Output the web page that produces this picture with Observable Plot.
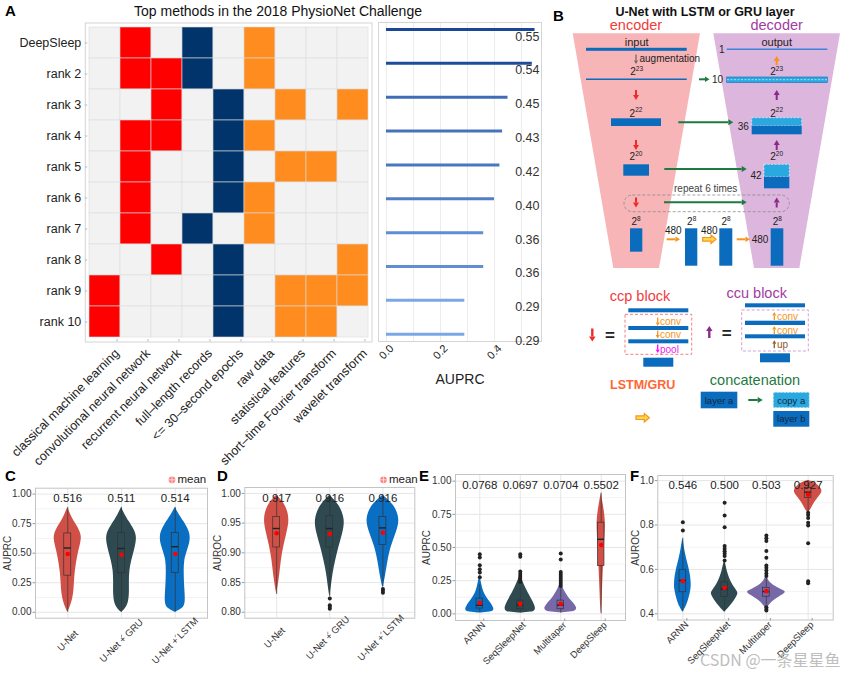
<!DOCTYPE html>
<html><head><meta charset="utf-8">
<script src="https://cdn.jsdelivr.net/npm/d3@7"></script>
<script src="https://cdn.jsdelivr.net/npm/@observablehq/plot@0.6"></script>
<style>
body{margin:0;background:#fff}
#root{position:relative;width:850px;height:676px;overflow:hidden;background:#fff;font-family:"Liberation Sans",Arial,Helvetica,sans-serif}
.p{position:absolute}
.p svg{overflow:visible}
</style></head><body><div id="root"></div>
<script>
// ---------------- data ----------------
const methods = ["DeepSleep","rank 2","rank 3","rank 4","rank 5","rank 6","rank 7","rank 8","rank 9","rank 10"];
const features = ["classical machine learning","convolutional neural network","recurrent neural network","full\u2013length records","<= 30\u2013second epochs","raw data","statistical features","short\u2013time Fourier transform","wavelet transform"];
const featureGroup = ["model","model","model","input","input","feature","feature","feature","feature"];
const usage = [
  [0,1,0,1,0,1,0,0,0],
  [0,1,1,1,0,1,0,0,0],
  [0,0,1,0,1,0,1,0,1],
  [0,1,1,0,1,1,0,0,0],
  [0,1,0,0,1,0,1,1,0],
  [0,1,0,0,1,1,0,0,0],
  [0,1,0,1,0,1,0,0,0],
  [0,0,1,0,1,0,0,0,1],
  [1,0,0,0,1,0,1,1,1],
  [1,0,0,0,1,0,1,1,0]
];
const challengeAUPRC = [0.55,0.54,0.45,0.43,0.42,0.40,0.36,0.36,0.29,0.29];

// panel C / D : U-Net variants
const unetNames = ["U-Net","U-Net + GRU","U-Net + LSTM"];
const unetAUPRCMean = ["0.516","0.511","0.514"];
const unetAUROCMean = ["0.917","0.916","0.916"];
// violin profiles: [value, half width (category units)]
const unetAUPRCProfile = [
  [[0.887,0],[0.82,0.06],[0.775,0.11],[0.72,0.19],[0.66,0.25],[0.62,0.255],[0.57,0.235],[0.52,0.205],[0.44,0.17],[0.35,0.14],[0.25,0.122],[0.155,0.113],[0.07,0.07],[0.0,0]],
  [[0.887,0],[0.82,0.07],[0.775,0.13],[0.70,0.24],[0.64,0.285],[0.58,0.27],[0.52,0.24],[0.44,0.19],[0.35,0.15],[0.25,0.145],[0.155,0.15],[0.07,0.13],[0.02,0.06],[0,0]],
  [[0.887,0],[0.82,0.08],[0.775,0.15],[0.70,0.25],[0.64,0.285],[0.58,0.27],[0.52,0.225],[0.44,0.17],[0.35,0.165],[0.25,0.17],[0.15,0.185],[0.08,0.19],[0.03,0.15],[0,0]]
];
const unetAUPRCBox = [
  {lo:0.0,q1:0.31,med:0.544,q3:0.667,hi:0.887,mean:0.493},
  {lo:0.0,q1:0.33,med:0.54,q3:0.67,hi:0.887,mean:0.487},
  {lo:0.0,q1:0.333,med:0.555,q3:0.67,hi:0.887,mean:0.493}
];
const unetAUPRCOut = [[],[],[]];
const unetAUROCProfile = [
  [[0.997,0],[0.983,0.15],[0.966,0.225],[0.95,0.235],[0.932,0.19],[0.91,0.13],[0.887,0.085],[0.859,0.055],[0.83,0]],
  [[0.997,0],[0.98,0.19],[0.955,0.295],[0.932,0.245],[0.91,0.17],[0.887,0.11],[0.864,0.056],[0.842,0.028],[0.825,0]],
  [[0.997,0],[0.98,0.225],[0.955,0.33],[0.932,0.245],[0.91,0.15],[0.887,0.095],[0.859,0.047],[0.84,0]]
];
const unetAUROCBox = [
  {lo:0.83,q1:0.909,med:0.941,q3:0.9605,hi:0.995,mean:0.933},
  {lo:0.827,q1:0.909,med:0.941,q3:0.962,hi:0.995,mean:0.932},
  {lo:0.843,q1:0.913,med:0.942,q3:0.9605,hi:0.995,mean:0.934}
];
const unetAUROCOut = [[],[0.823,0.812,0.809,0.806],[0.839,0.836,0.833]];

// panel E / F : method comparison
const methodNames = ["ARNN","SeqSleepNet","Multitaper","DeepSleep"];
const methodAUPRCMean = ["0.0768","0.0697","0.0704","0.5502"];
const methodAUROCMean = ["0.546","0.500","0.503","0.927"];
const methodAUPRCProfile = [
  [[0.30,0],[0.26,0.02],[0.22,0.05],[0.18,0.08],[0.15,0.12],[0.12,0.18],[0.09,0.25],[0.065,0.31],[0.04,0.35],[0.025,0.35],[0.012,0.28],[0.006,0]],
  [[0.30,0],[0.26,0.04],[0.22,0.1],[0.18,0.16],[0.14,0.23],[0.1,0.3],[0.07,0.35],[0.045,0.38],[0.025,0.37],[0.012,0.3],[0.006,0]],
  [[0.24,0],[0.21,0.04],[0.18,0.08],[0.15,0.14],[0.12,0.2],[0.09,0.29],[0.065,0.36],[0.045,0.4],[0.03,0.39],[0.015,0.32],[0.008,0]],
  [[0.91,0],[0.85,0.035],[0.78,0.075],[0.70,0.105],[0.63,0.1],[0.53,0.085],[0.40,0.062],[0.29,0.045],[0.165,0.03],[0.04,0.012],[0,0]]
];
const methodAUPRCBox = [
  {lo:0.01,q1:0.04,med:0.065,q3:0.115,hi:0.22,mean:0.083},
  {lo:0.005,q1:0.035,med:0.065,q3:0.1,hi:0.2,mean:0.075},
  {lo:0.005,q1:0.035,med:0.065,q3:0.1,hi:0.19,mean:0.075},
  {lo:0.0,q1:0.36,med:0.562,q3:0.687,hi:0.91,mean:0.518}
];
const methodAUPRCOut = [
  [0.45,0.425,0.367,0.337,0.312,0.275],
  [0.45,0.43,0.32,0.30,0.285,0.27,0.255,0.24],
  [0.455,0.41,0.315,0.3,0.285,0.27,0.255,0.24,0.225,0.21],
  []
];
const methodAUROCProfile = [
  [[0.74,0],[0.73,0.012],[0.67,0.06],[0.625,0.12],[0.58,0.18],[0.535,0.205],[0.505,0.195],[0.46,0.135],[0.43,0.075],[0.407,0]],
  [[0.64,0],[0.625,0.025],[0.58,0.075],[0.535,0.17],[0.505,0.29],[0.49,0.34],[0.46,0.24],[0.43,0.12],[0.407,0]],
  [[0.575,0],[0.56,0.03],[0.535,0.1],[0.51,0.34],[0.497,0.52],[0.475,0.29],[0.452,0.12],[0.43,0.036],[0.42,0]],
  [[1.0,0],[0.995,0.12],[0.975,0.27],[0.952,0.36],[0.93,0.27],[0.9,0.145],[0.87,0.07],[0.855,0]]
];
const methodAUROCBox = [
  {lo:0.41,q1:0.497,med:0.55,q3:0.598,hi:0.74,mean:0.547},
  {lo:0.41,q1:0.475,med:0.512,q3:0.542,hi:0.63,mean:0.517},
  {lo:0.44,q1:0.477,med:0.5,q3:0.517,hi:0.56,mean:0.502},
  {lo:0.86,q1:0.922,med:0.948,q3:0.967,hi:1.0,mean:0.937}
];
const methodAUROCOut = [
  [0.812,0.775],
  [0.9,0.843,0.79,0.705,0.693,0.682,0.672,0.66,0.64],
  [0.753,0.74,0.728,0.683,0.652,0.617,0.607,0.595,0.582,0.57,0.43,0.422,0.415],
  [0.855,0.845,0.832,0.81,0.798,0.718,0.547,0.538]
];

// ---------------- helpers ----------------
const FONT = '"Liberation Sans", Arial, Helvetica, sans-serif';
const root = document.getElementById("root");
function place(el, left, top){
  const d = document.createElement("div");
  d.className = "p"; d.style.left = left + "px"; d.style.top = top + "px";
  d.appendChild(el); root.appendChild(d);
}
const baseStyle = {fontFamily: FONT, background: "transparent", overflow: "visible", color: "#222"};

// ---------------- panel A: heatmap ----------------
const groupColor = {model: "#ff0000", input: "#01346b", feature: "#ff8c1f"};
const cells = methods.flatMap((m, i) => features.map((f, j) => ({method: m, feature: f, used: usage[i][j], group: featureGroup[j]})));
place(Plot.plot({
  width: 376, height: 470, marginLeft: 87.3, marginRight: 7, marginTop: 25, marginBottom: 131,
  style: baseStyle,
  x: {domain: features, padding: 0, label: null},
  y: {domain: methods, padding: 0, label: null},
  marks: [
    Plot.frame({stroke: "#d4d4d4", inset: -2.5}),
    Plot.cell(cells, {x: "feature", y: "method", fill: d => d.used ? groupColor[d.group] : "#f2f2f2", stroke: "#dcdcdc", strokeOpacity: 0.6}),
    Plot.axisY({label: null, tickSize: 2.5, tickPadding: 4, fontSize: 12.5, stroke: "#bbb", fill: "#222"}),
    Plot.axisX({label: null, tickSize: 2.5, tickRotate: -45, fontSize: 12.5, stroke: "#bbb", fill: "#222", dx: 12, dy: 0})
  ]
}), 0, 0);

// ---------------- panel A: AUPRC bars ----------------
const bars = methods.map((m, i) => ({method: m, rank: i, auprc: challengeAUPRC[i]}));
place(Plot.plot({
  width: 180, height: 470, marginLeft: 6, marginRight: 11, marginTop: 22, marginBottom: 129,
  style: baseStyle,
  x: {domain: [-0.0296, 0.574], label: null},
  y: {domain: [9.216, -0.207], axis: null},
  color: {type: "linear", domain: [0.29, 0.55], range: ["#78a8e8", "#1a4799"]},
  marks: [
    Plot.gridX([0, 0.1, 0.2, 0.3, 0.4, 0.5], {stroke: "#ececec", strokeOpacity: 1}),
    Plot.frame({stroke: "#d4d4d4"}),
    Plot.ruleY(bars, {y: "rank", x1: 0, x2: "auprc", stroke: "auprc", strokeWidth: 3}),
    Plot.text(bars, {y: "rank", text: d => d.auprc.toFixed(2), frameAnchor: "right", dx: -2, dy: 7, textAnchor: "end", fontSize: 12.5, fill: "#333"}),
    Plot.axisX({ticks: [0, 0.2, 0.4], tickFormat: ".1f", tickRotate: -45, textAnchor: "middle", tickSize: 2.5, tickPadding: 3, dy: 5,
      fontSize: 11, stroke: "#bbb", fill: "#222", label: null}),
    Plot.axisX({ticks: [], label: "AUPRC", labelAnchor: "center", labelArrow: "none", labelOffset: 42, fontSize: 14, fill: "#222"})
  ]
}), 372, 0);

// ---------------- violin panels ----------------
function violinPanel(o){
  const pos = o.names.map((_, i) => i + 1);
  const area = o.names.flatMap((nm, i) => o.profiles[i].map(([v, w]) => ({cat: nm, i: i + 1, v, w})));
  const box = o.names.map((nm, i) => ({cat: nm, i: i + 1, label: o.meanLabels[i], ...o.boxes[i]}));
  const out = o.names.flatMap((nm, i) => o.outliers[i].map(v => ({i: i + 1, v})));
  const col = d => o.colors[d.i - 1];
  const bw = o.bw;
  return Plot.plot({
    width: o.width, height: o.height,
    marginLeft: o.ml, marginRight: o.mr, marginTop: o.mt, marginBottom: o.mb,
    style: baseStyle,
    x: {domain: o.xDomain, label: null},
    y: {domain: o.yDomain, label: null},
    marks: [
      Plot.gridY(o.yMinor, {stroke: "#f3f3f3", strokeOpacity: 1}),
      Plot.gridY(o.yTicks, {stroke: "#e6e6e6", strokeOpacity: 1}),
      Plot.gridX(pos, {stroke: "#e6e6e6", strokeOpacity: 1}),
      Plot.areaX(area, {y: "v", x1: d => d.i - d.w, x2: d => d.i + d.w, z: "cat", fill: col, curve: "basis"}),
      Plot.ruleX(box, {x: "i", y1: "lo", y2: "hi", stroke: "#333", strokeWidth: 0.7}),
      Plot.rect(box, {x1: d => d.i - bw, x2: d => d.i + bw, y1: "q1", y2: "q3", fill: col, stroke: "#333", strokeWidth: 0.7}),
      Plot.ruleY(box, {y: "med", x1: d => d.i - bw, x2: d => d.i + bw, stroke: "#222", strokeWidth: 1.4}),
      Plot.dot(out, {x: "i", y: "v", r: 2, fill: "#222"}),
      Plot.dot(box, {x: "i", y: "mean", r: 2.3, fill: "#ff0000"}),
      Plot.text(box, {x: "i", text: "label", frameAnchor: "top", dy: o.labelDy, fontSize: 11.5, fill: "#222"}),
      Plot.frame({stroke: "#c4c4c4"}),
      Plot.axisY({ticks: o.yTicks, tickFormat: o.yFormat, tickSize: 2.5, tickPadding: 1.5, fontSize: 10, stroke: "#999", fill: "#333",
        label: o.ylabel, labelAnchor: "center", labelArrow: "none", labelOffset: o.labelOffset}),
      Plot.axisX({ticks: pos, tickFormat: i => o.names[i - 1], tickRotate: -45, tickSize: 2.5, tickPadding: o.tpad, fontSize: o.tfs,
        stroke: "#999", fill: "#333", label: null, textAnchor: o.tanchor, dx: o.tdx, dy: o.tdy})
    ]
  });
}
const red = "#d05048", slate = "#2e4a50", blue = "#0a6fc2", purple = "#7768a8";

place(violinPanel({names: unetNames, colors: [red, slate, blue], profiles: unetAUPRCProfile, boxes: unetAUPRCBox, outliers: unetAUPRCOut,
  meanLabels: unetAUPRCMean, width: 215, height: 216, ml: 35, mr: 8, mt: 27.7, mb: 58.3, xDomain: [0.4, 3.6], yDomain: [-0.05, 1.05],
  yTicks: [0, 0.25, 0.5, 0.75, 1], yMinor: [0.125, 0.375, 0.625, 0.875], yFormat: ".2f", ylabel: "AUPRC", labelOffset: 32, bw: 0.065, labelDy: 6,
  tanchor: "middle", tpad: 3, tfs: 9.5, tdx: 0, tdy: 17}), 0, 460);

place(violinPanel({names: unetNames, colors: [red, slate, blue], profiles: unetAUROCProfile, boxes: unetAUROCBox, outliers: unetAUROCOut,
  meanLabels: unetAUROCMean, width: 205, height: 216, ml: 29.3, mr: 5.7, mt: 27, mb: 58.3, xDomain: [0.4, 3.6], yDomain: [0.79, 1.01],
  yTicks: [0.8, 0.85, 0.9, 0.95, 1], yMinor: [0.825, 0.875, 0.925, 0.975], yFormat: ".2f", ylabel: "AUROC", labelOffset: 31, bw: 0.065, labelDy: 6,
  tanchor: "middle", tpad: 3, tfs: 9.5, tdx: -2, tdy: 14}), 215, 460);

place(violinPanel({names: methodNames, colors: [blue, slate, purple, red], profiles: methodAUPRCProfile, boxes: methodAUPRCBox, outliers: methodAUPRCOut,
  meanLabels: methodAUPRCMean, width: 210, height: 216, ml: 35, mr: 5, mt: 14, mb: 56, xDomain: [0.4, 4.6], yDomain: [-0.05, 1.05],
  yTicks: [0, 0.25, 0.5, 0.75, 1], yMinor: [0.125, 0.375, 0.625, 0.875], yFormat: ".2f", ylabel: "AUPRC", labelOffset: 32.7, bw: 0.08, labelDy: 6,
  tanchor: "end", tpad: 2, tfs: 9.5, tdx: 4, tdy: -1.5}), 420, 460);

place(violinPanel({names: methodNames, colors: [blue, slate, purple, red], profiles: methodAUROCProfile, boxes: methodAUROCBox, outliers: methodAUROCOut,
  meanLabels: methodAUROCMean, width: 215, height: 216, ml: 27.3, mr: 12.3, mt: 15, mb: 56.5, xDomain: [0.4, 4.6], yDomain: [0.372, 1.023],
  yTicks: [0.4, 0.6, 0.8, 1.0], yMinor: [0.5, 0.7, 0.9], yFormat: ".1f", ylabel: "AUROC", labelOffset: 25.6, bw: 0.08, labelDy: 5,
  tanchor: "end", tpad: 2, tfs: 9.5, tdx: 4, tdy: -1.5}), 630, 460);

// ---------------- overlay: letters, titles, legends, panel B schematic ----------------
const S = [];
function txt(x, y, s, o = {}){
  S.push(`<text x="${x}" y="${y}" font-size="${o.fs || 10}" fill="${o.fill || '#222'}" text-anchor="${o.anchor || 'middle'}"${o.bold ? ' font-weight="bold"' : ''}${o.family ? ` font-family='${o.family}'` : ''} dominant-baseline="${o.base || 'central'}"${o.op ? ` opacity="${o.op}"` : ''}>${s}</text>`);
}
function pow(x, y, e){
  S.push(`<text x="${x}" y="${y}" font-size="10" fill="#222" text-anchor="middle" dominant-baseline="central">2<tspan dy="-4" font-size="6.5">${e}</tspan></text>`);
}
function rect(x, y, w, h, fill, extra = ""){ S.push(`<rect x="${x}" y="${y}" width="${w}" height="${h}" fill="${fill}" ${extra}/>`); }
function arrow(x1, y1, x2, y2, c, sw = 2, hw = 6, hl = 5){
  const dx = x2 - x1, dy = y2 - y1, L = Math.hypot(dx, dy), ux = dx / L, uy = dy / L;
  const bx = x2 - ux * hl, by = y2 - uy * hl, px = -uy, py = ux;
  S.push(`<line x1="${x1}" y1="${y1}" x2="${bx}" y2="${by}" stroke="${c}" stroke-width="${sw}"/>`);
  S.push(`<polygon points="${x2},${y2} ${bx + px * hw / 2},${by + py * hw / 2} ${bx - px * hw / 2},${by - py * hw / 2}" fill="${c}"/>`);
}
function hollowArrow(x1, x2, y){
  S.push(`<polygon points="${x1},${y - 1.8} ${x2 - 5},${y - 1.8} ${x2 - 5},${y - 4.2} ${x2},${y} ${x2 - 5},${y + 4.2} ${x2 - 5},${y + 1.8} ${x1},${y + 1.8}" fill="#ffd84a" stroke="#f7941d" stroke-width="1.2"/>`);
}

// panel letters
[["A", 5, 15.5], ["B", 553, 21], ["C", 5, 481], ["D", 217, 480.5], ["E", 419, 481], ["F", 630, 481]]
  .forEach(([l, x, y]) => txt(x, y, l, {fs: 15, bold: true, anchor: "start", base: "alphabetic", fill: "#000"}));
// panel A title
txt(278, 16.3, "Top methods in the 2018 PhysioNet Challenge", {fs: 14, base: "alphabetic", fill: "#111"});
// mean legends
function meanLegend(cx, cy){
  S.push(`<circle cx="${cx}" cy="${cy}" r="3.4" fill="#ff7070" opacity="0.85"/>`);
  S.push(`<line x1="${cx - 3.4}" y1="${cy}" x2="${cx + 3.4}" y2="${cy}" stroke="#fff" stroke-width="0.6"/>`);
  S.push(`<line x1="${cx}" y1="${cy - 3.4}" x2="${cx}" y2="${cy + 3.4}" stroke="#fff" stroke-width="0.6"/>`);
  txt(cx + 5.5, cy + 3.2, "mean", {fs: 11.5, anchor: "start", base: "alphabetic"});
}
meanLegend(172, 479.8);
meanLegend(383.5, 479.8);

// ----- panel B schematic -----
const DB = "#0b6cbd", LB = "#2aa8e0", GR = "#1f7a3f", RD = "#ee2a2a", PU = "#8a2b8a", OR = "#f7941d";
txt(705, 11.5, "U-Net with LSTM or GRU layer", {fs: 12.5, bold: true, fill: "#111"});
S.push(`<polygon points="572.7,33.3 700,33.3 659,268 613.3,268" fill="#f7b5b8"/>`);
S.push(`<polygon points="713.3,33.3 840,33.3 799.3,268 754,268" fill="#dcb6dc"/>`);
txt(636, 25, "encoder", {fs: 14.5, fill: "#f03c3c"});
txt(776.7, 25, "decoder", {fs: 14.5, fill: "#a13ca1"});
// encoder
txt(636.7, 41.7, "input", {fs: 11});
rect(586, 47.8, 100.7, 3, DB);
arrow(636, 54.5, 636, 64, "#666", 1.2, 4, 3.5);
txt(639.5, 58.5, "augmentation", {fs: 10, anchor: "start"});
pow(636.7, 71.7, "23");
S.push(`<line x1="586" y1="79.3" x2="686.7" y2="79.3" stroke="${DB}" stroke-width="1.6"/>`);
arrow(636, 90, 636, 100, RD);
pow(636, 113, "22");
rect(611, 118.3, 50, 7.7, DB);
arrow(636, 140, 636, 150, RD);
pow(636, 156.7, "20");
rect(623.3, 164.3, 25.7, 11.4, DB);
txt(705.7, 188.3, "repeat 6 times", {fs: 10, fill: "#444"});
S.push(`<rect x="624" y="195" width="165.3" height="16.7" rx="8.3" fill="none" stroke="#8a8a8a" stroke-width="0.8" stroke-dasharray="3,2"/>`);
arrow(636, 197.5, 636, 207.5, RD);
arrow(664, 202.3, 746.7, 202.3, GR);
arrow(776.7, 207.5, 776.7, 197.5, PU);
pow(636, 221.7, "8"); rect(630, 228.3, 12.3, 23.4, DB);
txt(673.3, 230, "480", {fs: 10});
arrow(666.7, 239.3, 680, 239.3, OR, 2, 5.5, 4.5);
pow(691.7, 221.7, "8"); rect(685, 228.3, 12.3, 37.4, DB);
txt(709.3, 230, "480", {fs: 10});
hollowArrow(702.7, 716, 239.3);
pow(726, 221.7, "8"); rect(719.3, 228.3, 13, 37.4, DB);
arrow(736.7, 239.3, 750, 239.3, OR, 2, 5.5, 4.5);
txt(760, 239.3, "480", {fs: 10});
pow(777.3, 221.7, "8"); rect(770.7, 228.3, 12.6, 37.4, DB);
// decoder
txt(776.7, 41.7, "output", {fs: 11});
txt(721.7, 49.3, "1", {fs: 10});
S.push(`<line x1="726.7" y1="49.3" x2="827.3" y2="49.3" stroke="#3d85d8" stroke-width="1.5"/>`);
arrow(776.7, 65, 776.7, 56, OR);
pow(776.7, 71.7, "23");
arrow(699, 79.3, 709.5, 79.3, GR, 2, 5.5, 4.5);
txt(717.5, 79.3, "10", {fs: 10});
rect(726.7, 77, 100.6, 5.5, LB, `stroke="${DB}" stroke-width="0.6"`);
S.push(`<line x1="727" y1="79.7" x2="827" y2="79.7" stroke="#fff" stroke-width="0.6" stroke-dasharray="2,1.5"/>`);
arrow(776.7, 100, 776.7, 90, PU);
pow(776.7, 113, "22");
arrow(678.3, 122.3, 733.3, 122.3, GR);
txt(743.3, 126, "36", {fs: 10});
rect(751.7, 117.7, 50, 8, LB, `stroke="#fff" stroke-width="0.6" stroke-dasharray="2,1.5"`);
rect(751.7, 125.7, 50, 8.6, DB);
arrow(776.7, 150, 776.7, 140, PU);
pow(776.7, 156.7, "20");
arrow(664.3, 169, 746.7, 169, GR);
txt(756, 175, "42", {fs: 10});
rect(764, 164.3, 25.3, 12.4, LB, `stroke="#fff" stroke-width="0.6" stroke-dasharray="2,1.5"`);
rect(764, 176.7, 25.3, 11.6, DB);
// ccp block
txt(640, 296, "ccp block", {fs: 14.5, fill: "#f03c3c"});
rect(628.3, 308.3, 60, 4, DB);
S.push(`<rect x="625" y="314.3" width="66.7" height="40" fill="none" stroke="#f06060" stroke-width="0.8" stroke-dasharray="3,2"/>`);
arrow(657.7, 317.5, 657.7, 326, OR, 1.3, 4, 3.5); txt(660, 321.7, "conv", {fs: 10, anchor: "start", fill: OR});
rect(628.3, 326, 60, 4, DB);
arrow(657.7, 330.5, 657.7, 338.5, OR, 1.3, 4, 3.5); txt(660, 334.3, "conv", {fs: 10, anchor: "start", fill: OR});
rect(628.3, 339.3, 60, 4, DB);
arrow(657.7, 344.5, 657.7, 353, "#ff00ff", 1.3, 4, 3.5); txt(660, 349, "pool", {fs: 10, anchor: "start", fill: "#ee22ee"});
rect(643.3, 357.7, 30, 9, DB);
arrow(592.3, 328.5, 592.3, 341.5, RD, 2.4, 6.5, 5);
txt(610, 335.5, "=", {fs: 17, bold: true});
// ccu block
txt(756.7, 292.7, "ccu block", {fs: 14.5, fill: "#a13ca1"});
rect(745, 303.3, 60, 4, DB);
S.push(`<rect x="741.7" y="310" width="66.6" height="41" fill="none" stroke="#c888c8" stroke-width="0.8" stroke-dasharray="3,2"/>`);
arrow(774.3, 320, 774.3, 312, OR, 1.3, 4, 3.5); txt(777, 316, "conv", {fs: 10, anchor: "start", fill: OR});
rect(745, 320.7, 60, 4.3, DB);
arrow(774.3, 334, 774.3, 326, OR, 1.3, 4, 3.5); txt(777, 330, "conv", {fs: 10, anchor: "start", fill: OR});
rect(745, 334.3, 60, 4, DB);
arrow(774.3, 348.3, 774.3, 340.3, "#8b5a2b", 1.3, 4, 3.5); txt(777, 344.3, "up", {fs: 10, anchor: "start", fill: "#8b5a2b"});
rect(760, 353.3, 30, 9, DB);
arrow(709.3, 338, 709.3, 326, PU, 2.4, 6.5, 5);
txt(726.7, 333.5, "=", {fs: 17, bold: true});
// LSTM/GRU and concatenation
txt(642.7, 385, "LSTM/GRU", {fs: 12.5, bold: true, fill: "#ff6633"});
hollowArrow(636, 649.3, 417.7);
txt(755, 380, "concatenation", {fs: 14.5, fill: GR});
rect(700.7, 391.7, 36.6, 16.6, DB);
txt(719, 400, "layer a", {fs: 9.5, fill: "#10283f"});
arrow(748.3, 400, 762.7, 400, GR, 2, 6, 5);
rect(773.3, 392.3, 36, 15.4, LB, `stroke="#fff" stroke-width="0.6" stroke-dasharray="2,1.5"`);
txt(791.3, 400, "copy a", {fs: 9.5, fill: "#10283f"});
rect(773.3, 411, 36, 15.7, DB);
txt(791.3, 418.8, "layer b", {fs: 9.5, fill: "#10283f"});

// watermark
txt(700, 666, "CSDN @一条星星鱼", {fs: 16, anchor: "start", base: "alphabetic", fill: "#b8b8b8", family: '"Noto Sans CJK SC", "Liberation Sans", sans-serif', op: 0.9});

const ov = document.createElement("div");
ov.className = "p"; ov.style.left = "0px"; ov.style.top = "0px"; ov.style.pointerEvents = "none";
ov.innerHTML = `<svg xmlns="http://www.w3.org/2000/svg" width="850" height="676" font-family='${FONT}'>${S.join("")}</svg>`;
root.appendChild(ov);
</script>
</body></html>
